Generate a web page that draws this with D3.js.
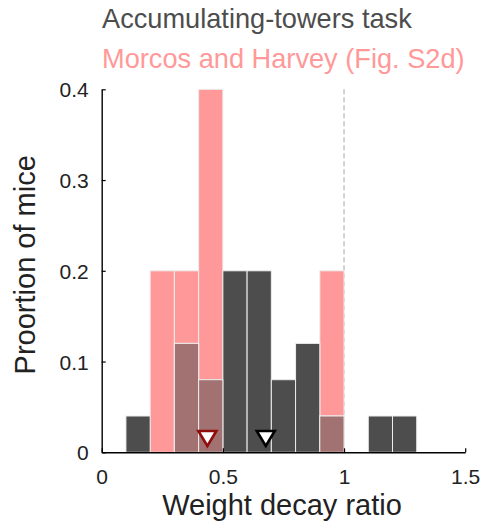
<!DOCTYPE html>
<html><head><meta charset="utf-8">
<script src="https://cdn.jsdelivr.net/npm/d3@7"></script>
<style>body{margin:0;background:#fff}svg{display:block}text{font-family:"Liberation Sans",Arial,Helvetica,sans-serif}</style>
</head><body><svg id="c" width="484" height="525"></svg>
<script>
// Data
const binEdges = [0.1,0.2,0.3,0.4,0.5,0.6,0.7,0.8,0.9,1.0,1.1,1.2,1.3];
const towersValues = [0.04,0,0.12,0.08,0.2,0.2,0.08,0.12,0.04,0,0.04,0.04];
const morcosValues = [0,0.2,0.2,0.4,0,0,0,0,0.2,0,0,0];
const towersMean = 0.677;
const morcosMean = 0.436;
const xTicks = [0,0.5,1,1.5];
const xTickLabels = ["0","0.5","1","1.5"];
const yTicks = [0,0.1,0.2,0.3,0.4];
const yTickLabels = ["0","0.1","0.2","0.3","0.4"];
const titleLines = ["Accumulating-towers task","Morcos and Harvey (Fig. S2d)"];

const darkCol = "#4d4d4d", pinkCol = "#ff9999", overlapCol = "#a27171";

const svg = d3.select("#c");
const x = d3.scaleLinear().domain([0,1.5]).range([101.7,465.2]);
const y = d3.scaleLinear().domain([0,0.4]).range([452.3,89.3]);

const bins = binEdges.slice(0,-1).map((lo,i)=>({lo, hi:binEdges[i+1], t:towersValues[i], m:morcosValues[i]}));

// dashed reference line at 1
svg.append("line").attr("x1",x(1)).attr("x2",x(1)).attr("y1",y(0.4)).attr("y2",y(0))
  .attr("stroke","#b5b5b5").attr("stroke-width",1.2).attr("stroke-dasharray","5,3");

function drawBars(key, col){
  svg.append("g").selectAll("rect").data(bins.filter(d=>key(d)>0)).join("rect")
    .attr("x",d=>x(d.lo)).attr("width",d=>x(d.hi)-x(d.lo))
    .attr("y",d=>y(key(d))).attr("height",d=>y(0)-y(key(d)))
    .attr("fill",col).attr("stroke","#ededed").attr("stroke-width",1);
}
drawBars(d=>d.m, pinkCol);
drawBars(d=>d.t, darkCol);
drawBars(d=>Math.min(d.m,d.t), overlapCol);

// mean markers
function tri(v, stroke){
  const cx = x(v), w=9, top=431, bot=446;
  svg.append("path").attr("d",`M${cx-w},${top}L${cx+w},${top}L${cx},${bot}Z`)
    .attr("fill","#fff").attr("stroke",stroke).attr("stroke-width",2.6).attr("stroke-linejoin","miter");
}
tri(morcosMean,"#8f0d0d");
tri(towersMean,"#000");

// axes
const xAxis = d3.axisBottom(x).tickValues(xTicks).tickFormat((d,i)=>xTickLabels[i]).tickSizeInner(-4).tickSizeOuter(0).tickPadding(17);
const gx = svg.append("g").attr("transform",`translate(0,${y(0)})`).call(xAxis);
const yAxis = d3.axisLeft(y).tickValues(yTicks).tickFormat((d,i)=>yTickLabels[i]).tickSizeInner(-4).tickSizeOuter(0).tickPadding(13);
const gy = svg.append("g").attr("transform",`translate(${x(0)},0)`).call(yAxis);
[gx,gy].forEach(g=>{
  g.select(".domain").attr("stroke","#000").attr("stroke-width",1.4);
  g.selectAll(".tick line").attr("stroke","#000").attr("stroke-width",1.2);
  g.selectAll("text").attr("font-size",21).attr("fill","#222").attr("font-family",'"Liberation Sans",Arial,sans-serif');
});
gy.selectAll("text").attr("dy","0.36em");

// labels
svg.append("text").attr("x",282).attr("y",515).attr("text-anchor","middle")
  .attr("font-size",29).attr("fill","#222").text("Weight decay ratio");
svg.append("text").attr("transform",`translate(35,${(y(0)+y(0.4))/2 - 6}) rotate(-90)`).attr("text-anchor","middle")
  .attr("font-size",29).attr("fill","#222").text("Proortion of mice");

// titles
svg.append("text").attr("x",102).attr("y",28).attr("font-size",27.2).attr("fill","#4d4d4d").text(titleLines[0]);
svg.append("text").attr("x",102).attr("y",68).attr("font-size",27.2).attr("fill","#ff9999").text(titleLines[1]);
</script></body></html>
